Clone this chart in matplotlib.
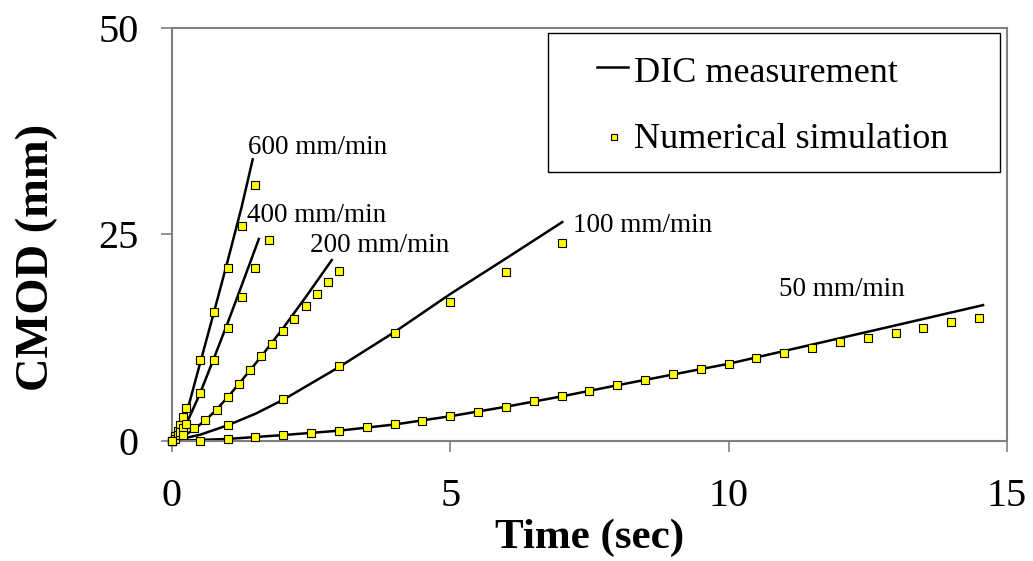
import matplotlib
matplotlib.use("Agg")
import matplotlib.pyplot as plt
from matplotlib.patches import Rectangle

plt.rcParams['font.family'] = ['Liberation Serif', 'DejaVu Serif']

# DIC measurement curves (time in s, CMOD in mm)
dic_600_t = [0, 0.1, 0.2, 0.3, 0.5, 0.75, 1.0, 1.25, 1.45]
dic_600_y = [0, 0.8, 2.1, 4.3, 9.3, 15.5, 21.8, 28.3, 34.1]
dic_400_t = [0, 0.1, 0.2, 0.3, 0.5, 0.74, 1.0, 1.25, 1.56]
dic_400_y = [0, 0.5, 1.4, 2.7, 5.7, 9.8, 14.3, 18.8, 24.45]
dic_200_t = [0, 0.2, 0.4, 0.6, 0.8, 1.0, 1.2, 1.4, 1.6, 2.0, 2.4, 2.87]
dic_200_y = [0, 0.55, 1.45, 2.5, 3.8, 5.3, 6.9, 8.55, 10.2, 13.7, 17.4, 21.9]
dic_100_t = [0, 0.5, 1, 1.5, 2, 3, 4, 5, 6, 7.01]
dic_100_y = [0, 0.75, 1.9, 3.3, 5.0, 8.95, 13.2, 17.8, 22.1, 26.5]
dic_50_t = [0, 1, 2, 3, 4, 5, 6, 7, 8, 9, 10, 11, 12, 13, 14.57]
dic_50_y = [0, 0.25, 0.72, 1.25, 2.0, 3.0, 4.15, 5.4, 6.75, 8.05, 9.35, 10.9, 12.45, 14.0, 16.45]

# Numerical simulation results
num_600_t = [0, 0.05, 0.1, 0.15, 0.2, 0.25, 0.5, 0.75, 1.0, 1.25, 1.5]
num_600_y = [0, 0.55, 1.2, 1.95, 2.9, 4.0, 9.8, 15.6, 20.9, 26.0, 31.0]
num_400_t = [0, 0.05, 0.1, 0.15, 0.2, 0.25, 0.5, 0.75, 1.0, 1.25, 1.5, 1.75]
num_400_y = [0, 0.3, 0.7, 1.1, 1.6, 2.1, 5.8, 9.8, 13.7, 17.4, 20.9, 24.3]
num_200_t = [0, 0.2, 0.4, 0.6, 0.8, 1.0, 1.2, 1.4, 1.6, 1.8, 2.0, 2.2, 2.4, 2.6, 2.8, 3.0]
num_200_y = [0, 0.75, 1.55, 2.5, 3.7, 5.3, 6.95, 8.6, 10.25, 11.8, 13.3, 14.8, 16.3, 17.8, 19.2, 20.6]
num_100_t = [0, 1, 2, 3, 4, 5, 6, 7]
num_100_y = [0, 1.95, 5.1, 9.1, 13.1, 16.8, 20.5, 24.0]
num_50_t = [0, 0.5, 1.0, 1.5, 2.0, 2.5, 3.0, 3.5, 4.0, 4.5, 5.0, 5.5, 6.0, 6.5, 7.0,
            7.5, 8.0, 8.5, 9.0, 9.5, 10.0, 10.5, 11.0, 11.5, 12.0, 12.5, 13.0, 13.5, 14.0, 14.5]
num_50_y = [0, 0.05, 0.24, 0.45, 0.73, 0.93, 1.21, 1.66, 2.02, 2.46, 3.03, 3.55, 4.15, 4.8, 5.45,
            6.09, 6.78, 7.38, 8.07, 8.7, 9.33, 10.0, 10.6, 11.3, 11.95, 12.5, 13.1, 13.7, 14.37, 14.93]

rate_labels = ["600 mm/min", "400 mm/min", "200 mm/min", "100 mm/min", "50 mm/min"]
label_pos = [(1.37, 34.75), (1.35, 26.5), (2.48, 22.9), (7.2, 25.3), (10.9, 17.5)]

x_ticks = [0, 5, 10, 15]
y_ticks = [0, 25, 50]

fig = plt.figure(figsize=(10.33, 5.61), dpi=100)
ax = fig.add_axes([0.1665, 0.2139, 0.8083, 0.7362])

dic = [(dic_600_t, dic_600_y), (dic_400_t, dic_400_y), (dic_200_t, dic_200_y),
       (dic_100_t, dic_100_y), (dic_50_t, dic_50_y)]
num = [(num_600_t, num_600_y), (num_400_t, num_400_y), (num_200_t, num_200_y),
       (num_100_t, num_100_y), (num_50_t, num_50_y)]

for t, y in dic:
    ax.plot(t, y, color='black', lw=1.8, zorder=2, clip_on=False)
for t, y in num:
    ax.plot(t, y, ls='none', marker='s', ms=5.8, mfc='#FFFF00', mec='black',
            mew=0.8, zorder=3, clip_on=False)

for lab, (lx, ly) in zip(rate_labels, label_pos):
    ax.text(lx, ly, lab, fontsize=19.5, ha='left', va='baseline', color='black')

ax.set_xlim(0, 15)
ax.set_ylim(0, 50)
ax.set_xticks(x_ticks)
ax.set_yticks(y_ticks)
ax.tick_params(direction='out', length=8, width=1.2, color='#808080',
               labelsize=29, labelcolor='black')
ax.tick_params(axis='x', pad=18.5)
ax.tick_params(axis='y', pad=16)
for s in ax.spines.values():
    s.set_color('#808080')
    s.set_linewidth(1.5)

ax.set_xlabel('Time (sec)', fontsize=31, fontweight='bold')
ax.set_ylabel('CMOD (mm)', fontsize=33.5, fontweight='bold')
ax.xaxis.set_label_coords(0.5, -0.187)
ax.yaxis.set_label_coords(-0.137, 0.4455)

# Legend drawn in axes coordinates
ax.add_patch(Rectangle((0.4507, 0.652), 0.5409, 0.335, transform=ax.transAxes,
                       facecolor='white', edgecolor='black', lw=1.0, zorder=5))
ax.plot([0.509, 0.546], [0.906, 0.906], color='black', lw=1.8,
        transform=ax.transAxes, zorder=6)
ax.text(0.553, 0.870, 'DIC measurement', fontsize=26, ha='left', va='baseline',
        transform=ax.transAxes, zorder=6)
ax.plot([0.529], [0.737], ls='none', marker='s', ms=4.5, mfc='#FFFF00', mec='black',
        mew=0.8, transform=ax.transAxes, zorder=6)
ax.text(0.553, 0.709, 'Numerical simulation', fontsize=26, ha='left', va='baseline',
        transform=ax.transAxes, zorder=6)

fig.savefig('out.png', dpi=100)
